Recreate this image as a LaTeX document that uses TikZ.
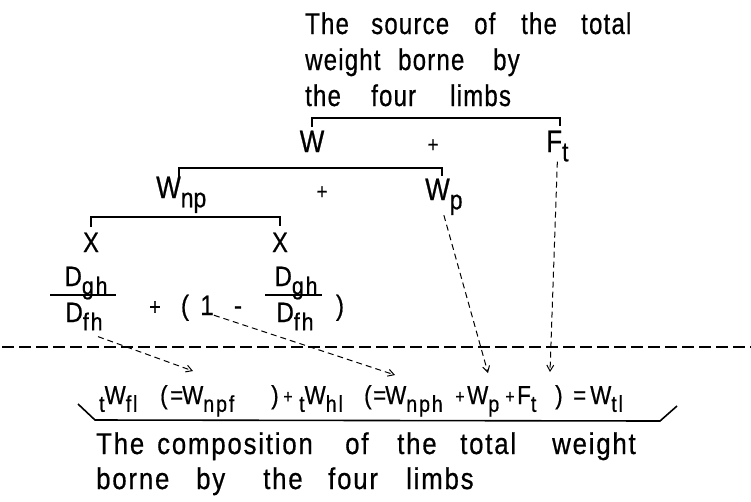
\documentclass[tikz,border=0pt]{standalone}
\usepackage{fontspec}
\setmainfont{Liberation Sans}[FakeStretch=0.84,FakeBold=0.6]
\newfontfamily\topfont{Liberation Sans}[FakeStretch=0.8,LetterSpace=4,FakeBold=0.6]
\newfontfamily\capfont{Liberation Sans}[FakeStretch=0.86,LetterSpace=6,FakeBold=0.6]
\newfontfamily\fmlfont{Liberation Sans}[FakeStretch=0.86,LetterSpace=8,FakeBold=0.6]
\usetikzlibrary{arrows.meta}
\newcommand\lo[1]{\raisebox{-0.3em}{\scalebox{0.88}{#1}}}
\begin{document}
\begin{tikzpicture}[x=1pt,y=-1pt,
  lbl/.style={inner sep=0pt, anchor=base west, font=\topfont\fontsize{30}{32}\selectfont},
  blbl/.style={inner sep=0pt, anchor=base west, font=\capfont\fontsize{30}{32}\selectfont},
  sym/.style={inner sep=0pt, anchor=base, font=\fontsize{31}{32}\selectfont},
  symw/.style={inner sep=0pt, anchor=base west, font=\fontsize{31}{32}\selectfont},
  plus/.style={inner sep=0pt, anchor=base, font=\fontsize{22}{24}\selectfont},
  fplus/.style={inner sep=0pt, anchor=base, font=\fontsize{19}{22}\selectfont},
  frc/.style={inner sep=0pt, anchor=base, font=\fmlfont\fontsize{28}{30}\selectfont},
  fml/.style={inner sep=0pt, anchor=base west, font=\fmlfont\fontsize{26}{30}\selectfont},
  brk/.style={line width=1.8pt},
  bar/.style={line width=1.6pt},
  arr/.style={line width=1pt, dash pattern=on 6pt off 4pt, -{Straight Barb[length=6pt,width=7pt]}}
]
\useasboundingbox (0,0) rectangle (751,501);
% top caption
\node[lbl] (t1a) at (305,34) {The};
\node[lbl] (t1b) at (371,34) {source};
\node[lbl] (t1c) at (474,34) {of};
\node[lbl] (t1d) at (521,34) {the};
\node[lbl] (t1e) at (581,34) {total};
\node[lbl] (t2a) at (305,70) {weight};
\node[lbl] (t2b) at (398,70) {borne};
\node[lbl] (t2c) at (493,70) {by};
\node[lbl] (t3a) at (305,106) {the};
\node[lbl] (t3b) at (371,106) {four};
\node[lbl] (t3c) at (450,106) {limbs};
% level 1
\node[sym] (W) at (312,152) {W};
\node[plus] (pl1) at (433,152) {+};
\node[symw] (Ft) at (546,152) {F\lo{t}};
\draw[brk] (312,127) -- (312,118) -- (560,118) -- (560,126);
% level 2
\node[symw] (Wnp) at (156,198) {W\lo{np}};
\node[plus] (pl2) at (322,199) {+};
\node[symw] (Wp) at (425,200) {W\lo{p}};
\draw[brk] (179,177) -- (179,168) -- (442,168) -- (442,176);
% level 3
\node[sym, font=\fontsize{28}{30}\selectfont] (X1) at (91,252) {X};
\node[sym, font=\fontsize{28}{30}\selectfont] (X2) at (280,252) {X};
\draw[brk] (91,227) -- (91,217) -- (280,217) -- (280,226);
% fractions
\node[frc] (n1) at (86,286) {D\lo{gh}};
\node[frc] (d1) at (84,322) {D\lo{fh}};
\draw[bar] (50,295) -- (116,295);
\node[plus, font=\fontsize{24}{26}\selectfont] (pl3) at (155,315) {+};
\node[frc] (lp) at (185,315) {(};
\node[frc] (one) at (207,315) {1};
\node[frc] (mi) at (238,315) {-};
\node[frc] (n2) at (296,286) {D\lo{gh}};
\node[frc] (d2) at (295,322) {D\lo{fh}};
\draw[bar] (265,295) -- (322,295);
\node[frc] (rp) at (340,315) {)};
% dashed separator
\draw[line width=1.8pt, dash pattern=on 12pt off 5pt] (2,347) -- (751,347);
% formula
\node[fml] (f1) at (99,404) {\lo{t}W\lo{fl}};
\node[fml] (f2) at (160,404) {(};
\node[fml] (f3a) at (170,404) {=};
\node[fml] (f3) at (182,404) {W\lo{npf}};
\node[fml] (f4) at (271,404) {)};
\node[fplus] (f5) at (288,403) {+};
\node[fml] (f6) at (299,404) {\lo{t}W\lo{hl}};
\node[fml] (f7) at (364,404) {(};
\node[fml] (f8a) at (373,404) {=};
\node[fml] (f8) at (385,404) {W\lo{nph}};
\node[fplus] (f9) at (460,403) {+};
\node[fml] (f10) at (467,404) {W\lo{p}};
\node[fplus] (f11) at (510,403) {+};
\node[fml] (f12) at (517,404) {F\lo{t}};
\node[fml] (f13) at (555,404) {)};
\node[fml] (f14) at (573,404) {=};
\node[fml] (f15) at (590,404) {W\lo{tl}};
% brace
\draw[line width=1.6pt] (78,404) -- (95,420) -- (660,421) -- (677,406);
% arrows
\coordinate (e1) at (193,371);
\coordinate (e2) at (395,375);
\coordinate (e3) at (488,373);
\coordinate (e4) at (550,372);
\draw[arr] ([xshift=14pt,yshift=-6pt]d1.south) -- (e1);
\draw[arr] (one.south east) -- (e2);
\draw[arr] (Wp.south) -- (e3);
\draw[arr] (Ft.south) -- (e4);
% bottom caption
\node[blbl] (b1a) at (96,454) {The};
\node[blbl] (b1b) at (157,454) {composition};
\node[blbl] (b1c) at (345,454) {of};
\node[blbl] (b1d) at (397,454) {the};
\node[blbl] (b1e) at (460,454) {total};
\node[blbl] (b1f) at (552,454) {weight};
\node[blbl] (b2a) at (96,489) {borne};
\node[blbl] (b2b) at (196,489) {by};
\node[blbl] (b2c) at (263,489) {the};
\node[blbl] (b2d) at (328,489) {four};
\node[blbl] (b2e) at (406,489) {limbs};
\end{tikzpicture}
\end{document}
